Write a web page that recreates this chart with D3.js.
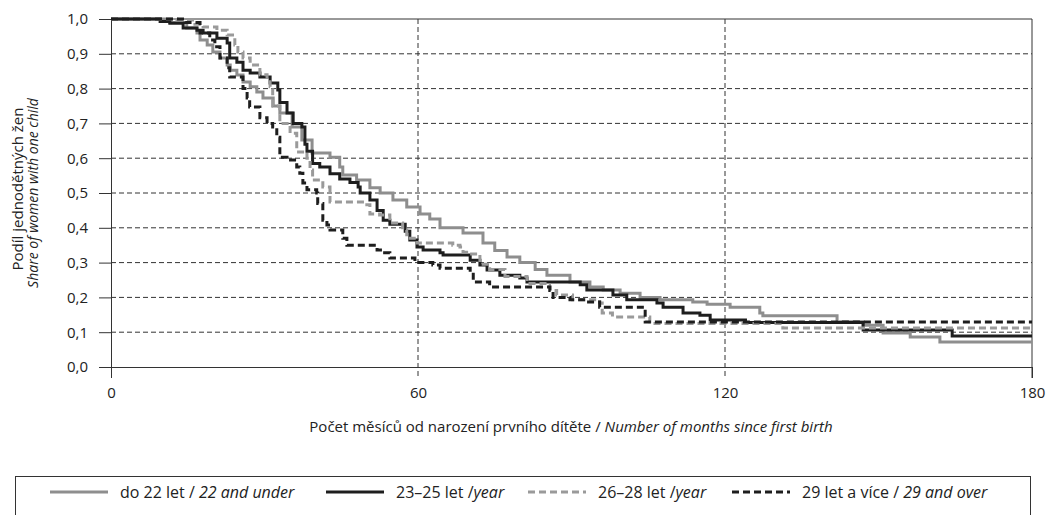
<!DOCTYPE html>
<html lang="cs">
<head>
<meta charset="UTF-8">
<title>Podíl jednodětných žen</title>
<script src="https://d3js.org/d3.v7.min.js"></script>
<style>
  body { margin: 0; background: #fff; }
  svg { font-family: "Open Sans", "Noto Sans", sans-serif; }
</style>
</head>
<body>
<div id="chart"></div>
<script>
// [měsíc, podíl] – body změny schodovité křivky
const under22 = [[0,1],[10.5,0.995],[11.5,0.99],[14.8,0.974],[16.8,0.96],[17.4,0.94],[18.8,0.925],[19.9,0.905],[21.3,0.888],[22.7,0.868],[23.3,0.853],[24.6,0.839],[25.8,0.819],[27.2,0.805],[28.5,0.79],[29.7,0.773],[31.7,0.75],[33,0.73],[35.4,0.69],[37.3,0.652],[39.3,0.615],[42.8,0.603],[44.7,0.575],[45.3,0.552],[48,0.537],[50.6,0.515],[52.6,0.5],[55.1,0.48],[57.8,0.46],[60.4,0.44],[62.3,0.425],[64.3,0.4],[68.8,0.385],[72.7,0.356],[75,0.335],[77.4,0.316],[79.9,0.3],[82.9,0.28],[85.2,0.264],[89.7,0.244],[93.6,0.23],[96.2,0.221],[99.5,0.212],[103.4,0.2],[107.3,0.193],[113.7,0.187],[116.5,0.18],[121,0.172],[126.8,0.155],[127.4,0.147],[141.9,0.13],[147,0.12],[150.9,0.098],[156.2,0.086],[162,0.072],[180,0.072]];
const age23_25 = [[0,1],[9.6,0.993],[11.5,0.988],[14.1,0.974],[16.8,0.968],[18,0.96],[20.7,0.945],[22.7,0.931],[23.2,0.888],[24.6,0.876],[25.8,0.853],[27.2,0.845],[29.1,0.833],[31.1,0.816],[32.6,0.796],[33,0.76],[34.4,0.73],[35.6,0.7],[37.3,0.69],[37.9,0.64],[38.3,0.62],[39.4,0.585],[40.8,0.575],[42.8,0.555],[44.7,0.54],[46.7,0.53],[48.3,0.517],[48.7,0.5],[50.6,0.48],[52,0.45],[53.2,0.422],[54.5,0.41],[57.5,0.39],[58.4,0.365],[59.8,0.345],[61,0.336],[64.3,0.328],[64.9,0.322],[70.2,0.307],[72.1,0.293],[73.5,0.279],[76,0.264],[79.9,0.256],[81.3,0.244],[91.7,0.236],[93,0.221],[98.1,0.207],[100.8,0.193],[106.7,0.184],[107.9,0.172],[111.8,0.155],[115.1,0.149],[117.1,0.135],[124,0.128],[147,0.106],[164.4,0.089],[180,0.089]];
const age26_28 = [[0,1],[12.9,0.997],[16.4,0.985],[18,0.977],[20.7,0.968],[22.7,0.954],[24.2,0.925],[24.8,0.905],[25.8,0.888],[27.2,0.868],[29.1,0.84],[30.5,0.82],[31.1,0.805],[31.6,0.75],[33,0.7],[35,0.672],[36.3,0.618],[38.3,0.6],[38.9,0.566],[39.4,0.537],[41.4,0.517],[42.8,0.474],[50,0.466],[50.6,0.44],[52.5,0.437],[54.5,0.414],[57,0.394],[57.8,0.37],[59.8,0.356],[66.8,0.35],[68.2,0.345],[68.8,0.33],[69.5,0.325],[72.1,0.295],[74,0.28],[77,0.26],[81.3,0.24],[85.2,0.235],[85.7,0.22],[87.1,0.207],[90.2,0.193],[95.5,0.184],[96,0.155],[98,0.144],[105.3,0.125],[131.3,0.112],[180,0.112]];
const age29plus = [[0,1],[14.5,0.99],[17.4,0.96],[19.3,0.94],[20.3,0.92],[21.3,0.888],[22.7,0.86],[23.2,0.833],[25.8,0.8],[26.6,0.773],[27.1,0.747],[29.1,0.716],[30.5,0.7],[31.6,0.69],[32.4,0.66],[33,0.603],[34.4,0.595],[36.3,0.575],[36.9,0.557],[37.5,0.529],[38.3,0.509],[40.2,0.5],[40.4,0.47],[41.4,0.422],[42.2,0.408],[42.8,0.394],[45.3,0.37],[46.1,0.35],[52,0.336],[53.1,0.328],[54.5,0.313],[59.4,0.3],[62.9,0.293],[64.3,0.284],[70.2,0.273],[70.8,0.244],[74,0.23],[85.8,0.22],[86.4,0.2],[89.7,0.193],[93,0.187],[95.5,0.172],[104.4,0.129],[180,0.129]];

const xTicks = [0, 60, 120, 180];
const yTicks = [0, 0.1, 0.2, 0.3, 0.4, 0.5, 0.6, 0.7, 0.8, 0.9, 1.0];

const series = [
  { data: under22,  cz: "do 22 let / ",    en: "22 and under", color: "#8e8e8e", dash: null },
  { data: age23_25, cz: "23–25 let /",     en: "year",         color: "#1e1e1e", dash: null },
  { data: age26_28, cz: "26–28 let /",     en: "year",         color: "#9a9a9a", dash: "7,4" },
  { data: age29plus, cz: "29 let a více / ", en: "29 and over", color: "#1e1e1e", dash: "7,4" }
];

const W = 1046, H = 515;
const margin = { top: 19, left: 111, right: 14, bottom: 148 };
const width = W - margin.left - margin.right,
      height = H - margin.top - margin.bottom;

const svg = d3.select("#chart").append("svg")
  .attr("width", W).attr("height", H);

const g = svg.append("g")
  .attr("transform", `translate(${margin.left},${margin.top})`);

const x = d3.scaleLinear().domain([0, 180]).range([0, width]);
const y = d3.scaleLinear().domain([0, 1]).range([height, 0]);

// mřížka
g.selectAll(".hgrid")
  .data(yTicks.filter(d => d > 0 && d < 1))
  .join("line")
  .attr("x1", 0).attr("x2", width)
  .attr("y1", d => y(d)).attr("y2", d => y(d))
  .attr("stroke", "#333").attr("stroke-width", 1)
  .attr("stroke-dasharray", "5,3");

g.selectAll(".vgrid")
  .data([60, 120])
  .join("line")
  .attr("x1", d => x(d)).attr("x2", d => x(d))
  .attr("y1", 0).attr("y2", height + 11)
  .attr("stroke", "#333").attr("stroke-width", 1)
  .attr("stroke-dasharray", "5,3");

// horní a pravý okraj
g.append("line")
  .attr("x1", 0).attr("x2", width).attr("y1", y(1)).attr("y2", y(1))
  .attr("stroke", "#333");
g.append("line")
  .attr("x1", x(180)).attr("x2", x(180)).attr("y1", 0).attr("y2", height + 11)
  .attr("stroke", "#333");

// osy
const yAxis = g.append("g")
  .call(d3.axisLeft(y).tickValues(yTicks).tickSize(12).tickPadding(11)
    .tickFormat(d => d3.format(".1f")(d).replace(".", ",")));
const xAxis = g.append("g")
  .attr("transform", `translate(0,${height})`)
  .call(d3.axisBottom(x).tickValues(xTicks).tickSize(11).tickPadding(9));

[yAxis, xAxis].forEach(a => {
  a.select(".domain").attr("stroke", "#333");
  a.selectAll(".tick line").attr("stroke", "#333");
  a.selectAll(".tick text").attr("font-size", 15).attr("fill", "#222")
    .attr("font-family", "'Open Sans', sans-serif");
});
xAxis.selectAll(".tick line").filter(d => d === 60 || d === 120).remove();

// křivky
const line = d3.line()
  .x(d => x(d[0]))
  .y(d => y(d[1]))
  .curve(d3.curveStepAfter);

g.selectAll(".curve")
  .data(series)
  .join("path")
  .attr("fill", "none")
  .attr("stroke", d => d.color)
  .attr("stroke-width", 3)
  .attr("stroke-dasharray", d => d.dash)
  .attr("d", d => line(d.data));

// popisky os
svg.append("text")
  .attr("transform", "translate(23,189) rotate(-90)")
  .attr("text-anchor", "middle")
  .attr("font-size", 15).attr("fill", "#222")
  .text("Podíl jednodětných žen");
svg.append("text")
  .attr("transform", "translate(38,193) rotate(-90)")
  .attr("text-anchor", "middle")
  .attr("font-size", 14).attr("fill", "#222")
  .attr("font-style", "italic")
  .text("Share of women with one child");

const xTitle = svg.append("text")
  .attr("x", 571).attr("y", 432)
  .attr("text-anchor", "middle")
  .attr("font-size", 15).attr("fill", "#222");
xTitle.append("tspan").text("Počet měsíců od narození prvního dítěte / ");
xTitle.append("tspan").attr("font-style", "italic").text("Number of months since first birth");

// legenda
svg.append("rect")
  .attr("x", 15.5).attr("y", 476.5)
  .attr("width", 1015).attr("height", 60)
  .attr("fill", "none").attr("stroke", "#333");

const legendX = [50, 326, 528, 732];
const leg = svg.selectAll(".leg")
  .data(series)
  .join("g")
  .attr("transform", (d, i) => `translate(${legendX[i]},492)`);

leg.append("line")
  .attr("x1", 0).attr("x2", 58)
  .attr("stroke", d => d.color)
  .attr("stroke-width", 3)
  .attr("stroke-dasharray", d => d.dash);

const lt = leg.append("text")
  .attr("x", 70).attr("y", 5.5)
  .attr("font-size", 16).attr("fill", "#222");
lt.append("tspan").text(d => d.cz);
lt.append("tspan").attr("font-style", "italic").text(d => d.en);
</script>
</body>
</html>
